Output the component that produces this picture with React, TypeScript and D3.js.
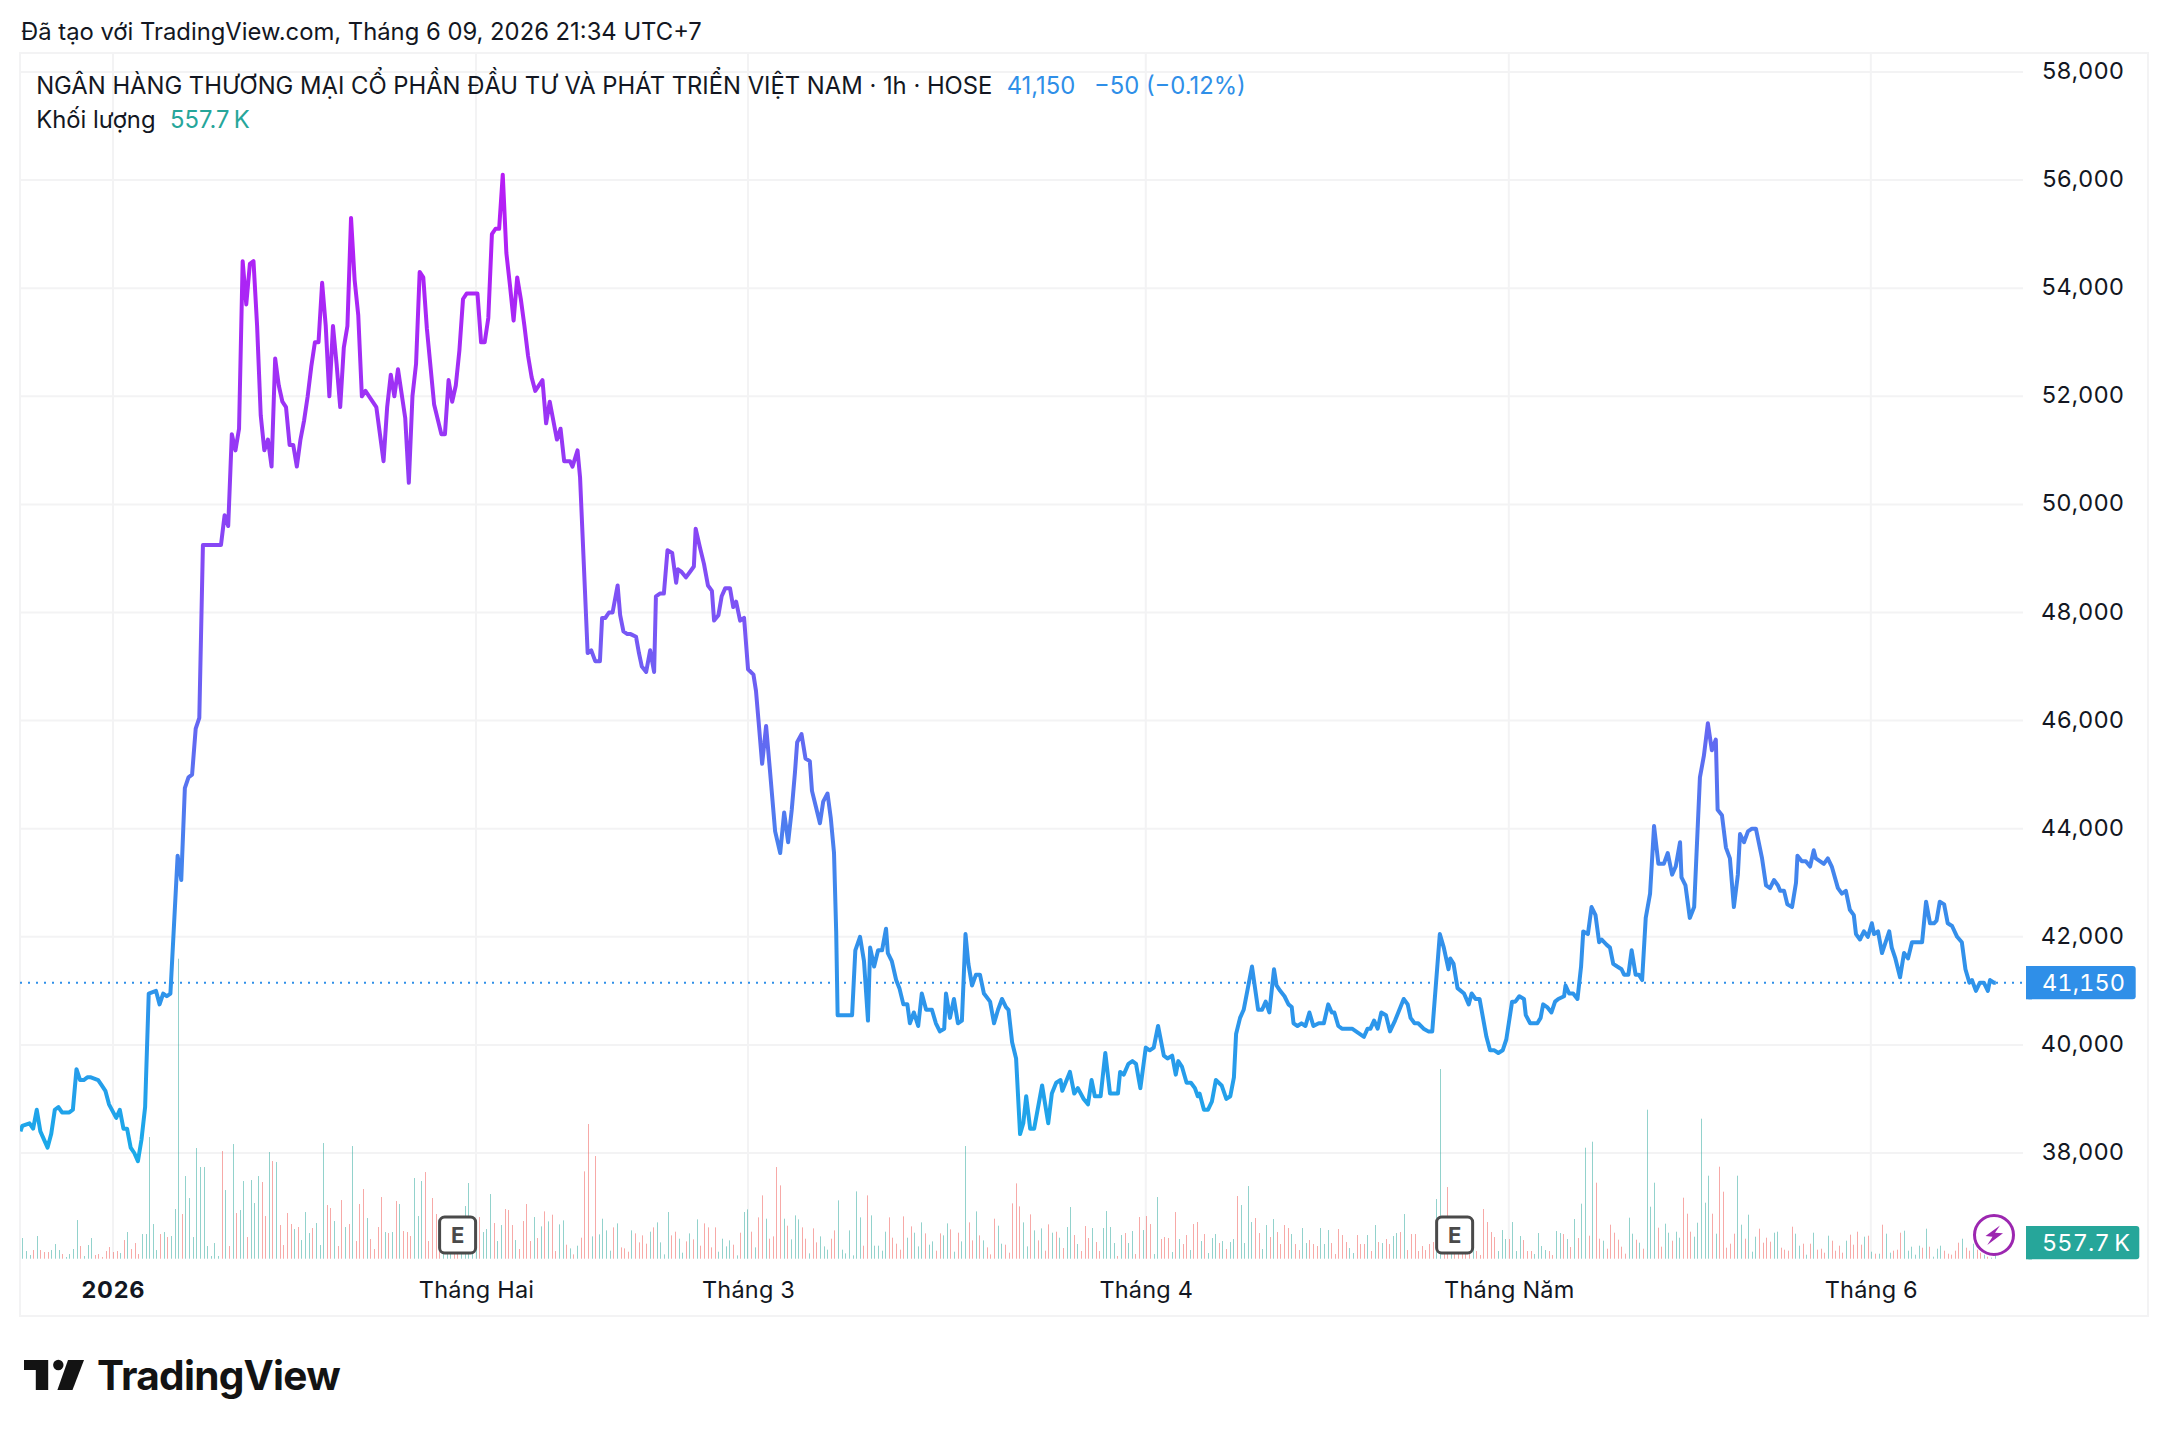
import React, { useRef, useEffect } from 'react'
import * as d3 from 'd3'

const FONT = 'Inter, "Noto Sans", sans-serif'

const priceTicks = [38000, 40000, 42000, 44000, 46000, 48000, 50000, 52000, 54000, 56000, 58000]
const timeTicks = [25.1, 125.6, 200.9, 311, 411.5, 511.7]
const timeLabels = ['2026', 'Tháng Hai', 'Tháng 3', 'Tháng 4', 'Tháng Năm', 'Tháng 6']
const earningsBars = [120.5, 396.5]
const lastPrice = 41150

// [bar position, close] at every turn of the line
const pricePoints: [number, number][] = [
  [-0.5, 38400], [0, 38500], [2, 38550], [3, 38450], [4, 38800], [5, 38400], [7, 38100], [8, 38350], [9, 38800], [10, 38850], [11, 38750],
  [13, 38750], [14, 38800], [15, 39550], [16, 39350], [17, 39350], [18, 39400], [19, 39400], [21, 39350], [22, 39250], [23, 39150],
  [24, 38900], [26, 38650], [27, 38800], [28, 38450], [29, 38450], [30, 38100], [31, 38000], [32, 37850], [33, 38250], [34, 38850],
  [35, 40950], [37, 41000], [38, 40750], [39, 40950], [40, 40900], [41, 40950], [43, 43500], [44, 43050], [45, 44750], [46, 44950],
  [47, 45000], [48, 45850], [49, 46050], [50, 49250], [55, 49250], [56, 49800], [57, 49600], [58, 51300], [59, 51000], [60, 51400],
  [61, 54500], [62, 53700], [63, 54450], [64, 54500], [65, 53300], [66, 51650], [67, 51000], [68, 51200], [69, 50700], [70, 52700],
  [71, 52200], [72, 51900], [73, 51800], [74, 51100], [75, 51100], [76, 50700], [77, 51200], [78, 51550], [79, 52000], [80, 52550],
  [81, 53000], [82, 53000], [83, 54100], [84, 53300], [85, 52000], [86, 53300], [87, 52600], [88, 51800], [89, 52900], [90, 53300],
  [91, 55300], [92, 54150], [93, 53500], [94, 52000], [95, 52100], [96, 52000], [98, 51800], [100, 50800], [101, 51800], [102, 52400],
  [103, 52000], [104, 52500], [106, 51600], [107, 50400], [108, 52000], [109, 52600], [110, 54300], [111, 54200], [112, 53250], [114, 51850],
  [116, 51300], [117, 51300], [118, 52300], [119, 51900], [120, 52200], [121, 52850], [122, 53800], [123, 53900], [126, 53900], [127, 53000],
  [128, 53000], [129, 53450], [130, 55000], [131, 55100], [132, 55100], [133, 56100], [134, 54650], [135, 54050], [136, 53400], [137, 54200],
  [138, 53800], [139, 53300], [140, 52750], [141, 52350], [142, 52100], [144, 52300], [145, 51500], [146, 51900], [148, 51200], [149, 51400],
  [150, 50800], [151.6, 50800], [152.3, 50700], [153.7, 51000], [154.4, 50500], [156.5, 47250], [157.5, 47300], [158.6, 47100], [159.9, 47100], [160.5, 47900],
  [161.4, 47900], [162.4, 48000], [163.4, 48000], [164.8, 48500], [165.5, 47950], [166.4, 47650], [167.5, 47600], [168.4, 47600], [169.9, 47550], [170.7, 47250],
  [171.5, 47000], [172.7, 46900], [173.8, 47300], [174.9, 46900], [175.4, 48300], [176.5, 48350], [177.6, 48350], [178.6, 49150], [179.9, 49100], [181, 48550],
  [181.5, 48800], [182.5, 48750], [183.7, 48650], [184.8, 48750], [185.9, 48850], [186.4, 49550], [187.6, 49200], [188.7, 48900], [189.8, 48500], [190.9, 48400],
  [191.5, 47850], [192.7, 47950], [193.6, 48300], [194.6, 48450], [195.9, 48450], [196.8, 48100], [197.6, 48200], [198.7, 47850], [199.8, 47900], [200.9, 46950],
  [202.4, 46850], [203.1, 46550], [203.8, 46000], [204.8, 45200], [205.9, 45900], [207, 45050], [208.4, 43950], [209.8, 43550], [210.9, 44300], [212, 43750],
  [213, 44350], [213.9, 45050], [214.5, 45600], [215.7, 45750], [216.8, 45300], [218, 45250], [218.6, 44700], [219.7, 44400], [220.8, 44100], [221.7, 44500],
  [222.9, 44650], [223.8, 44200], [224.7, 43550], [225.3, 42100], [225.7, 40550], [229.7, 40550], [230.6, 41750], [231.9, 42000], [233, 41550], [234.1, 40450],
  [234.7, 41800], [235.8, 41450], [236.9, 41750], [238, 41750], [239.1, 42150], [239.6, 41700], [240.7, 41550], [241.9, 41200], [242.8, 41050], [243.9, 40750],
  [245, 40750], [245.7, 40400], [246.8, 40600], [248, 40350], [249, 40950], [250.2, 40650], [251.8, 40650], [252.9, 40400], [254, 40250], [255.2, 40300],
  [255.7, 40950], [256.8, 40500], [257.9, 40850], [259, 40400], [260.1, 40450], [261.1, 42050], [261.9, 41500], [262.9, 41100], [264, 41300], [265.1, 41300],
  [266.2, 40950], [267.9, 40800], [269, 40400], [270.1, 40650], [271.2, 40850], [272.3, 40700], [273, 40650], [274, 40050], [275.1, 39750], [276.2, 38350],
  [277.1, 38550], [277.9, 39050], [279, 38450], [280.1, 38450], [282.3, 39250], [284, 38550], [285, 39100], [286.2, 39300], [287.4, 39350], [287.9, 39150],
  [290, 39500], [291.2, 39100], [292.2, 39200], [293.8, 39000], [295, 38900], [296, 39350], [296.9, 39050], [298.5, 39050], [299.8, 39850], [301.1, 39100],
  [303.3, 39100], [303.9, 39500], [304.9, 39450], [306.2, 39650], [307.3, 39700], [308.3, 39650], [309.5, 39200], [311, 39950], [312.1, 39900], [313.2, 39950],
  [314.4, 40350], [316, 39800], [317, 39750], [318.3, 39800], [319.3, 39450], [320, 39700], [321, 39600], [322.3, 39300], [323.5, 39300], [324.6, 39200],
  [325.4, 39050], [325.9, 39100], [327.1, 38800], [328.2, 38800], [329.3, 38950], [330.4, 39350], [332, 39250], [333.3, 39000], [334.4, 39050], [335.4, 39400],
  [336, 40200], [337.1, 40500], [338.1, 40650], [340.4, 41450], [342.1, 40650], [343.2, 40650], [344.2, 40800], [345.2, 40600], [346.5, 41400], [347.2, 41100],
  [348.2, 41000], [349.4, 40900], [350.5, 40750], [351.4, 40700], [351.9, 40400], [353, 40350], [354.1, 40400], [355.2, 40350], [356.3, 40600], [357.4, 40350],
  [358.9, 40400], [360.3, 40400], [361.5, 40750], [362.5, 40600], [363.2, 40600], [364.3, 40350], [365.3, 40300], [368.1, 40300], [371.4, 40150], [372.4, 40300],
  [373.2, 40300], [374.2, 40450], [375.2, 40300], [376.2, 40600], [377.5, 40550], [378.6, 40250], [380, 40450], [382.4, 40850], [383.5, 40750], [384.3, 40500],
  [385.4, 40400], [386.4, 40400], [387.9, 40300], [389.2, 40250], [390.3, 40250], [392.4, 42050], [393.5, 41800], [394.8, 41400], [395.3, 41600], [396.2, 41500],
  [397.3, 41050], [399.1, 40950], [400.4, 40750], [401.2, 40950], [402.3, 40850], [403.4, 40850], [405.3, 40150], [406.3, 39900], [407.5, 39900], [408.6, 39850],
  [409.8, 39900], [410.8, 40100], [412.4, 40800], [413.3, 40800], [414.4, 40900], [415.7, 40850], [416.2, 40550], [417.4, 40400], [419.4, 40400], [420.3, 40500],
  [421, 40750], [422.1, 40700], [423.3, 40600], [424.3, 40800], [425.2, 40850], [426.8, 40900], [427.2, 41100], [428.2, 40950], [429.3, 40950], [430.5, 40850],
  [431.5, 41450], [432.1, 42100], [433.4, 42050], [434.4, 42550], [435.5, 42400], [436.5, 41900], [437.2, 41950], [438.6, 41850], [439.5, 41800], [440.4, 41500],
  [441.5, 41450], [442.7, 41400], [443.4, 41300], [444.6, 41300], [445.5, 41750], [446.6, 41300], [447.5, 41300], [448.4, 41200], [449.4, 42350], [450.6, 42800],
  [451.7, 44050], [452.9, 43350], [454.4, 43350], [455.5, 43550], [456.7, 43150], [457.7, 43300], [458.9, 43750], [459.3, 43100], [460.4, 42950], [461.6, 42350],
  [462.8, 42550], [464.4, 44950], [465.5, 45350], [466.6, 45950], [467.7, 45450], [468.8, 45650], [469.3, 44350], [470.5, 44250], [471.6, 43650], [472.7, 43450],
  [473.8, 42550], [474.9, 43150], [475.5, 43900], [476.6, 43750], [477.7, 43950], [478.8, 44000], [479.9, 44000], [481.6, 43450], [482.7, 42950], [483.8, 42900],
  [484.9, 43050], [486, 42950], [486.6, 42850], [487.7, 42850], [488.6, 42600], [489.9, 42550], [491, 43000], [491.4, 43500], [492.6, 43400], [493.7, 43400],
  [494.9, 43300], [495.9, 43600], [496.5, 43450], [497.6, 43400], [498.7, 43350], [499.8, 43450], [500.9, 43300], [502.6, 42900], [503.7, 42800], [504.8, 42850],
  [505.9, 42500], [507, 42400], [507.6, 42050], [508.7, 41950], [509.8, 42100], [510.9, 42000], [512, 42250], [512.6, 42050], [513.7, 42100], [514.8, 41700],
  [516.8, 42100], [517.5, 41800], [518.5, 41600], [519.8, 41250], [520.9, 41700], [522, 41600], [523.1, 41900], [525.9, 41900], [527, 42650], [528.1, 42250],
  [529.2, 42250], [529.9, 42300], [530.8, 42650], [532, 42600], [533, 42250], [534.2, 42200], [535.6, 42000], [536.9, 41900], [537.9, 41400], [539, 41150],
  [539.7, 41200], [540.8, 41000], [541.9, 41150], [543, 41150], [544.1, 41000], [544.7, 41200], [545.8, 41150], [546.3, 41150],
]

// one value per bar, in 10K shares; negative = down bar
const volumes = [
  62, 23, 11, -26, 68, -26, -20, -20, 26, 44,
  26, -14, 5, 14, 29, 116, -38, 8, 41, 62,
  -11, -14, -5, -23, -35, -20, -23, 17, -56, 80,
  -29, -47, -14, 74, 74, 365, 104, 26, -74, 80,
  -65, 68, 149, 900, -134, 248, 182, 65, 332, 275,
  275, 38, 8, 47, 8, -323, 206, -38, 344, -137,
  146, 233, -65, 236, 167, 248, -230, -128, 320, -293,
  290, -101, -41, -137, -104, 89, -95, 56, 140, 77,
  -92, 107, 41, 347, -161, -152, 113, -38, -176, 95,
  -104, 338, -53, -164, -209, 122, -59, -29, -95, -185,
  80, -77, 80, -173, 164, -83, -80, -68, 242, 128,
  233, -260, -53, -182, -134, -60, 60, 60, 60, -60,
  -60, 60, 158, 227, 60, 60, -125, 80, 89, 194,
  -107, 53, 101, -149, -146, -101, 56, -29, -113, -164,
  -53, 125, -62,
  97, -142, 112, -132, -23, 103, 115, -42, 31, -13,
  39, -63, -262, -404, 67, -308, 73, 120, 85, 24,
  -94, 106, -34, -31, -21, 85, -76, -49, -70, -45,
  81, -94, 109, 49, 13, 140, -70, -81, 60, 18,
  -52, 76, -58, 118, -39, -106, -94, -34, -94, 21,
  60, 37, 55, -42, 10, -78, 140, 148, -81, 34,
  -124, -190, 120, -60, -67, -275, -220, 120, -99, 58,
  130, 118, -94, -60, 16, -91, -49, 67, 37, 27,
  -60, -85, 175, 27, 16, 85, 10, 202, 124, -39,
  -190, 130, 39, 39, 24, 81, -124, -63, -45, -27,
  -127, 63, -97, 78, 37, 109, -76, 42, 52, -24,
  -76, 70, 106, -88, 21, -78, 52, 338, -109, -55,
  142, -70, 55, -34, -13, -120, 99, 45, -42, -18,
  -166, -226, -157, 109, 37, -133, 85, -55, 91, -24,
  -103, 78, -81, 63,
  -32, 95, 155, -71, 44, -23, -98, -62, 92, -50,
  -23, 92, 143, 95, 47, -8, 71, -77, 47, 83,
  -14, -125, 86, -128, -104, 14, 185, -59, -65, -62,
  20, -140, 59, -44, -71, 26, -104, -110, 53, -74,
  17, 62, 74, -47, 53, -29, 50, 59, -188, 161,
  47, 218, 110, -122, -77, 29, 101, -65, 119, -80,
  -44, -101, -92, 74, -44, -26, 92, 47, -56, -44,
  -38, 92, 44, 86, -47, -14, -89, -71, -50, 32,
  17, -71, -44, -44, 71, -23, 101, -50, 47, -59,
  -44, 68, 77, -80, 134, -26, -74, -74, -23, -38,
  -26, -44, -50, 179, 569, -60, -215, 60, -60, -60,
  -60, -60, -60, 60, -23, -11, -149, -110, -80, -65,
  23, 86, 59, -59, 110, 23, 68, -56, -23, -23,
  14, 77, 38, 26, -23, -11, 83, 77, -74, 59,
  -35, 119, -62,
  165, 333, -69, 351, -228, -60, 54, -30, -102, -78,
  -57, -36, -15, 123, 75, -57, 48, -30, 447, 156,
  228, -93, -36, 105, 78, -54, 81, 63, -183, -135,
  -81, 66, 108, 420, 168, 249, -135, 75, -276, -201,
  -33, -45, -75, 249, 102, -60, 132, 21, 66, -90,
  -48, -63, -51, 78, 81, -33, -27, -24, -96, 75,
  39, -45, 12, -45, 78, -27, -30, -18, 69, -54,
  -24, -39, -18, 54, -72, -42, -81, -42, 66, -69,
  21, -15, 15, -102, 75, 18, -24, -27, -78, 84,
  24, 36, 12, 39, -33, 90, -36, 6, 30, 39,
  -24, -15, -12, -24, -48, 60, -33, -24, 45, -27,
  -18, 12, -6, 3, 56,
]

// line colour by price level
const gradientPrices = [38000, 40000, 42000, 44000, 46000, 48000, 50000, 52000, 54000, 56000]
const gradientColors = ['#1aaae9', '#2a98eb', '#3390ea', '#4d7def', '#6665f2', '#7b55f5', '#8d3ff5', '#9d32f5', '#ab25f5', '#b71df5']

const INK = '#131722'
const BLUE = '#2f8fe8'
const TEAL = '#26a69a'
const GRID = '#f3f3f4'
const width = 2168
const height = 1436

const App = () => {
  const svgRef = useRef<SVGSVGElement>(null)

  useEffect(() => {
    const svg = d3.select(svgRef.current)
    svg.selectAll('*').remove()

    const left = 20
    const right = 2023
    const frameRight = 2148
    const frameTop = 53
    const frameBottom = 1316
    const volumeBase = 1258.7

    const x = d3.scaleLinear().domain([0, 546]).range([22.3, 1994.7])
    const xBar = d3.scaleLinear().domain([0, volumes.length - 1]).range([22.3, 1994.7])
    const y = d3.scaleLinear().domain([38000, 58000]).range([1153, 72])
    const yVolume = d3.scaleLinear().domain([0, 900]).range([volumeBase, volumeBase - 300])

    const defs = svg.append('defs')
    const gradient = defs
      .append('linearGradient')
      .attr('id', 'priceLine')
      .attr('gradientUnits', 'userSpaceOnUse')
      .attr('x1', 0)
      .attr('x2', 0)
      .attr('y1', y(38000))
      .attr('y2', y(56000))
    gradientPrices.forEach((p, i) => {
      gradient
        .append('stop')
        .attr('offset', (p - 38000) / 18000)
        .attr('stop-color', gradientColors[i])
    })
    defs
      .append('clipPath')
      .attr('id', 'plot')
      .append('rect')
      .attr('x', left)
      .attr('y', frameTop)
      .attr('width', right - left)
      .attr('height', frameBottom - frameTop)

    // frame
    svg
      .append('rect')
      .attr('x', left)
      .attr('y', frameTop)
      .attr('width', frameRight - left)
      .attr('height', frameBottom - frameTop)
      .attr('fill', 'none')
      .attr('stroke', GRID)
      .attr('stroke-width', 2)

    // grid
    svg
      .append('g')
      .selectAll('line')
      .data(priceTicks)
      .join('line')
      .attr('x1', left)
      .attr('x2', right)
      .attr('y1', (d) => y(d))
      .attr('y2', (d) => y(d))
      .attr('stroke', GRID)
      .attr('stroke-width', 2)
    svg
      .append('g')
      .selectAll('line')
      .data(timeTicks)
      .join('line')
      .attr('x1', (d) => x(d))
      .attr('x2', (d) => x(d))
      .attr('y1', frameTop)
      .attr('y2', volumeBase)
      .attr('stroke', GRID)
      .attr('stroke-width', 2)

    // volume bars
    svg
      .append('g')
      .selectAll('rect')
      .data(volumes)
      .join('rect')
      .attr('x', (d, i) => Math.round(xBar(i)))
      .attr('y', (d) => yVolume(Math.abs(d)))
      .attr('width', 1)
      .attr('height', (d) => volumeBase - yVolume(Math.abs(d)))
      .attr('fill', (d) => (d < 0 ? 'rgba(239,83,80,0.5)' : 'rgba(38,166,154,0.5)'))

    // last price dotted line
    svg
      .append('line')
      .attr('x1', left)
      .attr('x2', right + 3)
      .attr('y1', y(lastPrice))
      .attr('y2', y(lastPrice))
      .attr('stroke', BLUE)
      .attr('stroke-width', 2)
      .attr('stroke-dasharray', '2 6')

    const line = d3
      .line<[number, number]>()
      .x((d) => x(d[0]))
      .y((d) => y(d[1]))
    svg
      .append('path')
      .datum(pricePoints)
      .attr('d', line)
      .attr('fill', 'none')
      .attr('stroke', 'url(#priceLine)')
      .attr('stroke-width', 4)
      .attr('stroke-linejoin', 'round')
      .attr('clip-path', 'url(#plot)')

    // earnings markers
    const marks = svg
      .append('g')
      .selectAll('g')
      .data(earningsBars)
      .join('g')
      .attr('transform', (d) => `translate(${x(d)},1235)`)
    marks
      .append('rect')
      .attr('x', -18)
      .attr('y', -18)
      .attr('width', 36)
      .attr('height', 36)
      .attr('rx', 5)
      .attr('fill', '#fff')
      .attr('stroke', '#4a4a4a')
      .attr('stroke-width', 3)
    marks
      .append('text')
      .text('E')
      .attr('text-anchor', 'middle')
      .attr('y', 8)
      .attr('font-size', 22)
      .attr('font-weight', 700)
      .attr('fill', '#4a4a4a')

    // bolt icon at the last bar
    const bolt = svg.append('g').attr('transform', 'translate(1994,1235)')
    bolt
      .append('circle')
      .attr('r', 19.5)
      .attr('fill', '#fff')
      .attr('stroke', '#9c27b0')
      .attr('stroke-width', 3)
    bolt.append('path').attr('d', 'M6,-9.5L-8.5,1L-1.5,1.7L-6.7,10L9,-1.7L1,-2.3Z').attr('fill', '#9c27b0')

    // price axis
    const yAxis = d3
      .axisRight(y)
      .tickValues(priceTicks)
      .tickFormat(d3.format(','))
      .tickSize(0)
    const yAxisG = svg.append('g').call(yAxis)
    yAxisG.select('.domain').remove()
    yAxisG
      .selectAll('text')
      .attr('x', 2124.5)
      .attr('dy', '0.28em')
      .attr('text-anchor', 'end')
      .attr('font-size', 23.5)
      .attr('font-family', FONT)
      .attr('letter-spacing', 0.6)
      .attr('fill', INK)

    // time axis
    const xAxis = d3
      .axisBottom(x)
      .tickValues(timeTicks)
      .tickFormat((d, i) => timeLabels[i])
      .tickSize(0)
    const xAxisG = svg.append('g').attr('transform', 'translate(0,1298)').call(xAxis)
    xAxisG.select('.domain').remove()
    xAxisG
      .selectAll('text')
      .attr('y', 0)
      .attr('dy', 0)
      .attr('font-size', 23.5)
      .attr('font-family', FONT)
      .attr('letter-spacing', (d, i) => (i === 0 ? 0.8 : 0.2))
      .attr('fill', INK)
      .attr('font-weight', (d, i) => (i === 0 ? 700 : 400))

    // price tags
    const tags = [
      { top: 966, right: 2135.7, fill: BLUE, label: d3.format(',')(lastPrice), base: 991 },
      { top: 1226, right: 2139.3, fill: TEAL, label: '557.7\u2009K', base: 1251 },
    ]
    tags.forEach((t) => {
      svg
        .append('rect')
        .attr('x', 2026)
        .attr('y', t.top)
        .attr('width', t.right - 2026)
        .attr('height', 33.3)
        .attr('rx', 3)
        .attr('fill', t.fill)
      svg
        .append('rect')
        .attr('x', 2026)
        .attr('y', t.top)
        .attr('width', 6)
        .attr('height', 33.3)
        .attr('fill', t.fill)
      svg
        .append('text')
        .text(t.label)
        .attr('x', 2042)
        .attr('y', t.base)
        .attr('font-size', 23.5)
        .attr('letter-spacing', 0.1)
        .attr('fill', '#fff')
        .style('font-variant-numeric', 'tabular-nums')
    })

    // header texts
    const header = [
      { s: 'Đã tạo với TradingView.com, Tháng 6 09, 2026 21:34 UTC+7', tx: 21, ty: 40, c: INK },
      { s: 'NGÂN HÀNG THƯƠNG MẠI CỔ PHẦN ĐẦU TƯ VÀ PHÁT TRIỂN VIỆT NAM · 1h · HOSE', tx: 36.2, ty: 94.3, c: INK },
      { s: '41,150', tx: 1006.7, ty: 94.3, c: BLUE },
      { s: '−50 (−0.12%)', tx: 1094, ty: 94.3, c: BLUE },
      { s: 'Khối lượng', tx: 36.2, ty: 128.3, c: INK },
      { s: '557.7\u2009K', tx: 170, ty: 128.3, c: TEAL },
    ]
    svg
      .append('g')
      .selectAll('text')
      .data(header)
      .join('text')
      .text((d) => d.s)
      .attr('x', (d) => d.tx)
      .attr('y', (d) => d.ty)
      .attr('font-size', 23.8)
      .attr('fill', (d) => d.c)

    // logo
    const logo = svg.append('g').attr('fill', '#131313')
    logo.append('path').attr('d', 'M24,1360H48.2V1390H35.8V1370H24Z')
    logo.append('circle').attr('cx', 58.3).attr('cy', 1365).attr('r', 5.2)
    logo.append('path').attr('d', 'M68,1360H84L72.5,1390H57.4Z')
    logo
      .append('text')
      .text('TradingView')
      .attr('x', 97)
      .attr('y', 1390)
      .attr('font-size', 40.6)
      .attr('font-weight', 700)
      .attr('letter-spacing', -0.75)
  }, [])

  return (
    <svg
      ref={svgRef}
      width={width}
      height={height}
      style={{ position: 'absolute', left: 0, top: 0, background: '#fff', fontFamily: FONT }}
    />
  )
}

export default App
